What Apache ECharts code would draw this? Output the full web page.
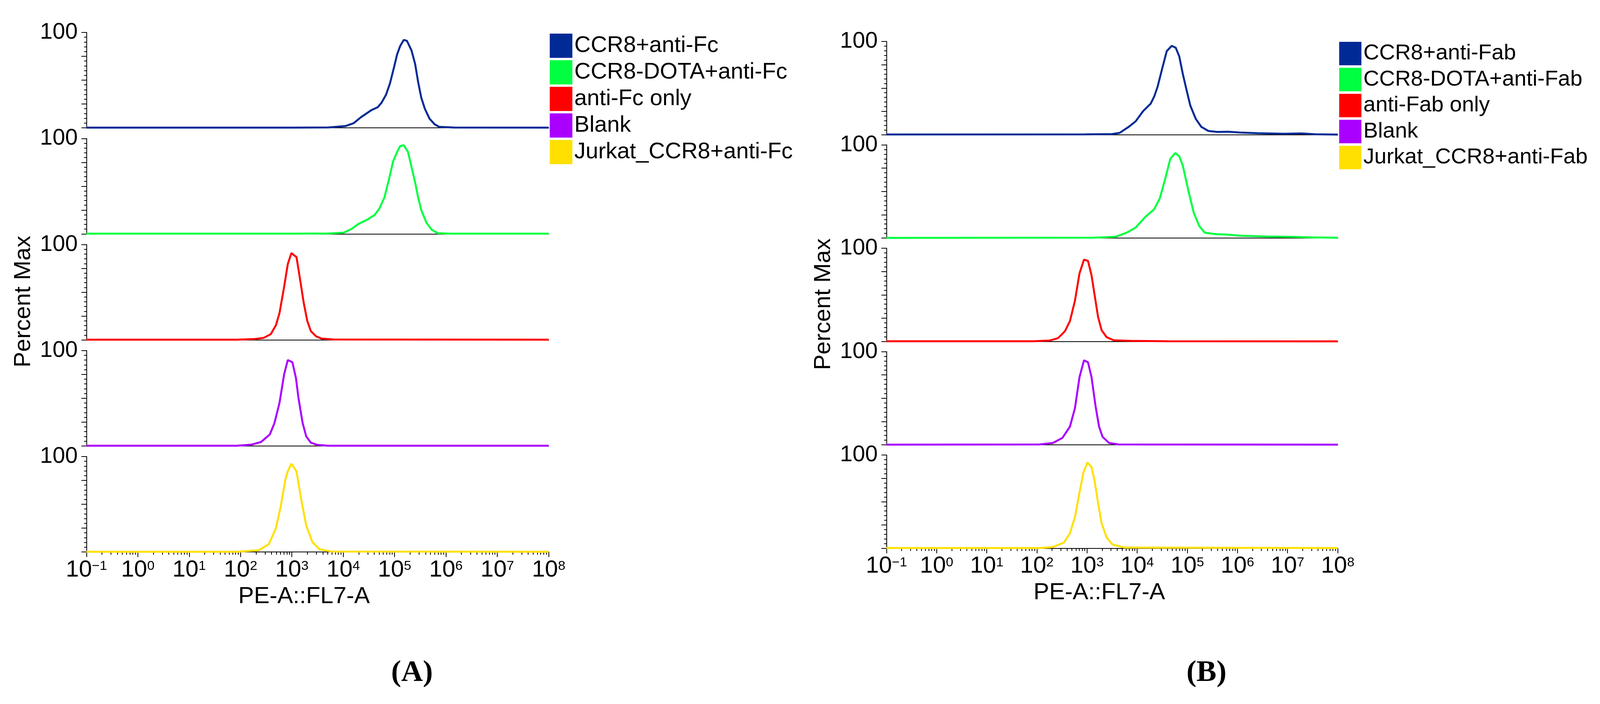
<!DOCTYPE html>
<html>
<head>
<meta charset="utf-8">
<script src="https://cdn.jsdelivr.net/npm/echarts@6/dist/echarts.min.js"></script>
<style>html,body{margin:0;padding:0;background:#fff;overflow:hidden}#c{width:100vw;height:1801px}</style>
</head>
<body>
<div id="c"></div>
<script>
// ---------- data ----------
const namesA = ['CCR8+anti-Fc', 'CCR8-DOTA+anti-Fc', 'anti-Fc only', 'Blank', 'Jurkat_CCR8+anti-Fc'];
const namesB = ['CCR8+anti-Fab', 'CCR8-DOTA+anti-Fab', 'anti-Fab only', 'Blank', 'Jurkat_CCR8+anti-Fab'];
const colors = ['#002A96', '#00FF40', '#FF0000', '#AA00FF', '#FFE000'];
const yTopLabel = '100';
const xAxisTitle = 'PE-A::FL7-A';
const yAxisTitle = 'Percent Max';
const xDecadeExponents = [-1, 0, 1, 2, 3, 4, 5, 6, 7, 8];
const xMinorMultipliers = [2, 3, 4, 5, 6, 7, 8, 9];

const aBlueX = [0.1, 1000, 5200, 1.1e4, 1.6e4, 2.2e4, 3.5e4, 4.7e4, 5.6e4, 6.8e4, 8.1e4, 9.8e4, 1.12e5, 1.29e5, 1.51e5, 1.74e5, 2.14e5, 2.51e5, 2.88e5, 3.31e5, 3.89e5, 4.79e5, 6.03e5, 7.41e5, 1.45e6, 1e8];
const aBlueY = [0.2, 0.2, 0.4, 1.8, 4.9, 11, 18.4, 21.6, 26.5, 34.6, 46.3, 64, 77, 86, 92.2, 91.2, 81, 67, 47.8, 31.6, 19.9, 9.6, 3.7, 1.0, 0.3, 0.2];
const aGreenX = [0.1, 1000, 5200, 1.02e4, 1.45e4, 1.95e4, 3.02e4, 4.07e4, 5.01e4, 6.31e4, 7.76e4, 9.33e4, 1.12e5, 1.29e5, 1.51e5, 1.82e5, 2.14e5, 2.51e5, 2.88e5, 3.31e5, 4.17e5, 5.25e5, 6.92e5, 1.23e6, 1e8];
const aGreenY = [0.2, 0.2, 0.4, 1.2, 5.1, 10.2, 15.3, 19.7, 26.2, 37.9, 56.9, 75.8, 86, 92.1, 93, 86, 70, 54, 37.9, 24.8, 11.7, 4.4, 0.7, 0.2, 0.2];
const aRedX = [0.1, 85, 190, 282, 389, 490, 575, 708, 832, 977, 1230, 1445, 1698, 1995, 2344, 2951, 3802, 6607, 1e8];
const aRedY = [0.2, 0.2, 0.9, 2.1, 6, 15.5, 28.3, 56, 79.4, 91, 86.8, 63.4, 39, 19.8, 9.1, 3.8, 1.3, 0.4, 0.2];
const aPurpleX = [0.1, 85, 162, 251, 372, 457, 575, 708, 832, 1023, 1202, 1349, 1622, 1905, 2344, 3090, 5012, 1e8];
const aPurpleY = [0.2, 0.2, 1.3, 4.1, 12, 23.8, 45.3, 75.3, 90, 87.8, 71, 49.6, 23.8, 9.9, 3.4, 1.1, 0.2, 0.2];
const aYellowX = [0.1, 85, 224, 355, 490, 603, 741, 832, 977, 1230, 1514, 1905, 2512, 3467, 5888, 1e8];
const aYellowY = [0.2, 0.2, 1.7, 8, 25, 47, 75, 84.5, 92.5, 84.5, 55.5, 27.5, 10.3, 2.8, 0.4, 0.2];

const bBlueX = [0.1, 912, 3162, 4467, 6761, 9333, 1.32e4, 1.86e4, 2.19e4, 2.57e4, 3.16e4, 3.89e4, 4.9e4, 5.89e4, 6.92e4, 8.13e4, 9.77e4, 1.15e5, 1.48e5, 1.91e5, 2.63e5, 3.98e5, 6.61e5, 1.1e6, 2.51e6, 8.71e6, 1.86e7, 3.55e7, 1e8];
const bBlueY = [0.2, 0.3, 0.6, 1.9, 8.3, 14.3, 25.4, 33.2, 41, 51.8, 71, 89.6, 95.3, 93.2, 83.9, 65.3, 46.8, 31.1, 16.8, 8.3, 4, 2.9, 3.1, 2.3, 1.6, 0.9, 1.4, 0.4, 0.1];
const bGreenX = [0.1, 1380, 3715, 6166, 9333, 1.45e4, 2.19e4, 2.82e4, 3.63e4, 4.57e4, 5.75e4, 6.92e4, 8.13e4, 1.05e5, 1.35e5, 1.74e5, 2.24e5, 3.72e5, 6.17e5, 1.1e6, 3.8e6, 1.32e7, 3.09e7, 1e8];
const bGreenY = [0.2, 0.4, 1.4, 5.7, 11.3, 22.6, 31, 42.4, 63.6, 84.9, 91.2, 87.7, 77.8, 50.9, 26.9, 12.7, 5.7, 4.2, 3.8, 2.5, 1.7, 1.3, 0.7, 0.3];
const bRedX = [0.1, 85, 178, 263, 363, 457, 575, 708, 871, 1047, 1230, 1413, 1660, 1950, 2455, 3388, 7413, 3.98e4, 1e8];
const bRedY = [0.2, 0.2, 0.9, 3.5, 11, 22, 43.8, 73, 87.8, 86.3, 71, 50.3, 26.4, 12.2, 4.6, 1.3, 0.6, 0.2, 0.1];
const bPurpleX = [0.1, 112, 209, 324, 457, 575, 708, 871, 1047, 1230, 1479, 1738, 2042, 2754, 4266, 1e8];
const bPurpleY = [0.2, 0.4, 2, 7.5, 19.6, 39.5, 72.6, 90.7, 88.5, 72.6, 41.7, 19.6, 8.6, 2, 0.4, 0.2];
const bYellowX = [0.1, 112, 209, 347, 457, 575, 708, 851, 1023, 1230, 1413, 1660, 1950, 2455, 3236, 5623, 1e8];
const bYellowY = [0.2, 0.2, 1.3, 6.1, 16, 33.5, 59.7, 81.6, 92, 87, 72.8, 48.8, 27, 11.6, 3.9, 0.7, 0.2];

// ---------- layout (designed for 4386 px wide, scaled to the real window width) ----------
const DESIGN_W = 4386;
const W = Math.min(DESIGN_W, window.innerWidth || DESIGN_W);
const sx = W / DESIGN_W;
const X = v => v * sx;
const F = v => Math.round(v * sx);
const FONT = "'Liberation Sans', Arial, Helvetica, sans-serif";
const SERIF = "'Liberation Serif', 'Times New Roman', serif";
const panels = [
  { names: namesA, xs: [aBlueX, aGreenX, aRedX, aPurpleX, aYellowX], ys: [aBlueY, aGreenY, aRedY, aPurpleY, aYellowY],
    left: 237, width: 1267, top0: 83, pitch: 271.25, height: 244,
    legend: { left: 1507, top: 86, w: 62, h: 62, gap: 6, font: 62 }, xNamePad: 74, label: 'A', labelX: 1128 },
  { names: namesB, xs: [bBlueX, bGreenX, bRedX, bPurpleX, bYellowX], ys: [bBlueY, bGreenY, bRedY, bPurpleY, bYellowY],
    left: 2430, width: 1237, top0: 106, pitch: 264.5, height: 238.5,
    legend: { left: 3671, top: 107, w: 61, h: 60, gap: 6.5, font: 60 }, xNamePad: 70, label: 'B', labelX: 3308 }
];

// minor tick positions (in decades) for the overlay tick axis
const minorTickPos = [];
xDecadeExponents.slice(0, -1).forEach(n => xMinorMultipliers.forEach(m => minorTickPos.push(n + Math.log10(m))));

const grids = [], xAxes = [], overlayAxes = [], yAxes = [], series = [], legends = [], titles = [];
function supLabel(v) {
  const e = Math.round(Math.log10(v));
  return '10{s|' + (e < 0 ? '\u2212' + (-e) : String(e)) + '}';
}
panels.forEach((p) => {
  for (let k = 0; k < 5; k++) {
    const idx = grids.length;
    const isBottom = k === 4;
    grids.push({ left: X(p.left), top: p.top0 + k * p.pitch, width: X(p.width), height: p.height });
    xAxes.push({
      gridIndex: idx, type: 'log', logBase: 10, min: 0.1, max: 1e8, splitNumber: 9, position: 'bottom',
      axisLine: { show: true, onZero: false, lineStyle: { color: '#000', width: 2 } },
      axisTick: { show: isBottom, length: 13, lineStyle: { color: '#000', width: 2 } },
      minorTick: { show: false },
      splitLine: { show: false },
      axisLabel: {
        show: isBottom, margin: 16, color: '#000', fontFamily: FONT, fontSize: F(64),
        formatter: supLabel,
        rich: { s: { fontSize: F(36), fontFamily: FONT, color: '#000', verticalAlign: 'top', padding: [4, 0, 0, 0] } }
      },
      name: isBottom ? xAxisTitle : '', nameLocation: 'middle', nameGap: 84,
      nameTextStyle: { color: '#000', fontFamily: FONT, fontSize: F(64), padding: [0, X(p.xNamePad), 0, 0] }
    });
    if (isBottom) {
      overlayAxes.push({
        gridIndex: idx, type: 'value', min: -1, max: 8, position: 'bottom', offset: 0,
        axisLine: { show: false, onZero: false },
        axisTick: { show: true, length: 7, customValues: minorTickPos, lineStyle: { color: '#000', width: 2 } },
        axisLabel: { show: false }, splitLine: { show: false }, silent: true
      });
    }
    yAxes.push({
      gridIndex: idx, type: 'value', min: 0, max: 100, interval: 25, position: 'left',
      axisLine: { show: true, onZero: false, lineStyle: { color: '#000', width: 2 } },
      axisTick: { show: true, length: 13, lineStyle: { color: '#000', width: 2 } },
      minorTick: { show: true, splitNumber: 5, length: 6, lineStyle: { color: '#000', width: 2 } },
      splitLine: { show: false },
      axisLabel: { margin: X(24), color: '#000', fontFamily: FONT, fontSize: F(62),
        formatter: v => (v === 100 ? yTopLabel : '') },
      name: k === 2 ? yAxisTitle : '', nameLocation: 'middle', nameGap: X(140),
      nameTextStyle: { color: '#000', fontFamily: FONT, fontSize: F(64), padding: [0, 48, 0, 0] }
    });
    const c = colors[k];
    series.push({
      name: p.names[k], type: 'line', xAxisIndex: idx, yAxisIndex: idx,
      data: p.xs[k].map((x, i) => [x, p.ys[k][i]]),
      symbol: 'none', showSymbol: false, smooth: false, z: 3,
      color: c, itemStyle: { color: c }, lineStyle: { color: c, width: 5 }
    });
  }
  legends.push({
    left: X(p.legend.left), top: p.legend.top, orient: 'vertical', padding: 0,
    itemWidth: X(p.legend.w), itemHeight: p.legend.h, itemGap: p.legend.gap, icon: 'rect',
    data: p.names.map((n, k) => ({ name: n, itemStyle: { color: colors[k] } })),
    selectedMode: false,
    textStyle: { color: '#000', fontFamily: FONT, fontSize: F(p.legend.font), padding: [0, 0, 0, 0] }
  });
  titles.push({
    text: '{p|(}{b|' + p.label + '}{p|)}', left: X(p.labelX) - F(80) * 0.694, top: 1684, padding: 0,
    textStyle: { rich: {
      p: { fontFamily: SERIF, fontSize: F(82), color: '#000' },
      b: { fontFamily: SERIF, fontSize: F(82), fontWeight: 'bold', color: '#000' }
    } }
  });
});

const chart = echarts.init(document.getElementById('c'), null, { renderer: 'canvas' });
chart.setOption({
  backgroundColor: '#fff', animation: false,
  title: titles, legend: legends, grid: grids, xAxis: xAxes.concat(overlayAxes), yAxis: yAxes, series: series
});
</script>
</body>
</html>
